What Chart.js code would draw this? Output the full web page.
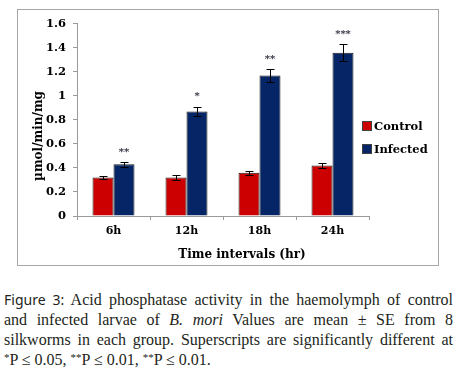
<!DOCTYPE html>
<html>
<head>
<meta charset="utf-8">
<script src="https://cdn.jsdelivr.net/npm/chart.js@4.4.0/dist/chart.umd.min.js"></script>
<style>
  html, body { margin: 0; padding: 0; background: #fff; }
  body { width: 459px; height: 383px; position: relative; overflow: hidden; }
  #box { position: absolute; left: 17px; top: 9px; width: 420px; height: 255px; border: 1px solid #a6a6a6; }
  #c { display: block; }
  #legend { position: absolute; left: 362px; top: 114px; font: bold 11.5px "DejaVu Serif", serif; color: #000; }
  .li { display: flex; align-items: center; height: 23px; }
  .sw { width: 8px; height: 8px; border: 1px solid #404040; margin-right: 2px; }
  #cap { position: absolute; left: 4px; top: 290px; width: 449px; font-family: "Liberation Serif", serif; font-size: 16px; line-height: 20px; color: #231f20; }
  .ln { text-align: justify; text-align-last: justify; white-space: nowrap; }
  .last { text-align: left; text-align-last: left; }
  .fig { font-family: "Noto Sans", sans-serif; font-size: 14px; }
  sup { font-size: 11px; line-height: 0; vertical-align: 4px; }
</style>
</head>
<body>
<div id="box"><canvas id="c" width="420" height="255"></canvas></div>
<div id="legend"></div>
<div id="cap">
  <div class="ln"><span class="fig">Figure 3:</span> Acid phosphatase activity in the haemolymph of control</div>
  <div class="ln">and infected larvae of <i>B. mori</i> Values are mean ± SE from 8</div>
  <div class="ln">silkworms in each group. Superscripts are significantly different at</div>
  <div class="ln last"><sup>*</sup>P ≤ 0.05, <sup>**</sup>P ≤ 0.01, <sup>**</sup>P ≤ 0.01.</div>
</div>
<script>
const categories = ['6h', '12h', '18h', '24h'];
const seriesNames = ['Control', 'Infected'];
const controlValues = [0.32, 0.32, 0.36, 0.42];
const controlErrors = [0.015, 0.02, 0.015, 0.02];
const infectedValues = [0.43, 0.87, 1.17, 1.36];
const infectedErrors = [0.02, 0.04, 0.055, 0.07];
const significance = ['**', '*', '**', '***'];
const yTicks = [0, 0.2, 0.4, 0.6, 0.8, 1, 1.2, 1.4, 1.6];
const yTitle = 'µmol/min/mg';
const xTitle = 'Time intervals (hr)';

const colors = ['#CC0000', '#052566'];
const errs = [controlErrors, infectedErrors];

const errorBars = {
  id: 'errorBars',
  afterDatasetsDraw(chart) {
    const ctx = chart.ctx, y = chart.scales.y;
    ctx.save();
    ctx.strokeStyle = '#000';
    ctx.lineWidth = 1;
    chart.data.datasets.forEach((ds, di) => {
      const meta = chart.getDatasetMeta(di);
      meta.data.forEach((bar, i) => {
        const v = ds.data[i], e = errs[di][i];
        const x = Math.round(bar.x) + 0.5;
        const t = Math.round(y.getPixelForValue(v + e)) + 0.5;
        const b = Math.round(y.getPixelForValue(v - e)) + 0.5;
        ctx.beginPath();
        ctx.moveTo(x, t); ctx.lineTo(x, b);
        ctx.moveTo(x - 4, t); ctx.lineTo(x + 4, t);
        ctx.moveTo(x - 4, b); ctx.lineTo(x + 4, b);
        ctx.stroke();
      });
    });
    const meta = chart.getDatasetMeta(1);
    ctx.fillStyle = '#2a2a3a';
    ctx.font = 'bold 10px "DejaVu Serif", serif';
    ctx.textAlign = 'center';
    ctx.textBaseline = 'middle';
    meta.data.forEach((bar, i) => {
      const t = y.getPixelForValue(infectedValues[i] + infectedErrors[i]);
      ctx.fillText(significance[i], bar.x, t - 10);
    });
    ctx.restore();
  }
};

const axisTitles = {
  id: 'axisTitles',
  afterDraw(chart) {
    const ctx = chart.ctx, a = chart.chartArea;
    ctx.save();
    ctx.fillStyle = '#000';
    ctx.font = 'bold 12px "DejaVu Serif", serif';
    ctx.textAlign = 'center';
    ctx.textBaseline = 'middle';
    ctx.fillText(xTitle, (a.left + a.right) / 2 + 19, a.bottom + 39);
    ctx.translate(a.left - 38, (a.top + a.bottom) / 2 + 16);
    ctx.rotate(-Math.PI / 2);
    ctx.fillText(yTitle, 0, 0);
    ctx.restore();
  }
};

const chart = new Chart(document.getElementById('c'), {
  type: 'bar',
  data: {
    labels: categories,
    datasets: [
      { label: seriesNames[0], data: controlValues, backgroundColor: colors[0], borderColor: '#1a1a1a', borderWidth: 1 },
      { label: seriesNames[1], data: infectedValues, backgroundColor: colors[1], borderColor: '#1a1a1a', borderWidth: 1 }
    ]
  },
  options: {
    responsive: false,
    animation: false,
    devicePixelRatio: 1,
    layout: { padding: { left: 0, top: 12, right: 69, bottom: 0 } },
    datasets: { bar: { categoryPercentage: 0.575, barPercentage: 1 } },
    plugins: { legend: { display: false }, tooltip: { enabled: false } },
    scales: {
      x: {
        afterFit(s) { s.height = 49; },
        grid: { display: true, drawOnChartArea: false, drawTicks: true, tickLength: 4, color: '#9a9a9a', offset: true },
        border: { display: true, color: '#9a9a9a' },
        ticks: { color: '#000', font: { family: '"DejaVu Serif", serif', weight: 'bold', size: 11 }, padding: 5 }
      },
      y: {
        min: 0, max: 1.6,
        afterFit(s) { s.width = 59; },
        afterBuildTicks(s) { s.ticks = yTicks.map(v => ({ value: v })); },
        grid: { display: true, drawOnChartArea: false, drawTicks: true, tickLength: 4, color: '#9a9a9a' },
        border: { display: true, color: '#9a9a9a' },
        ticks: { color: '#000', font: { family: '"DejaVu Serif", serif', weight: 'bold', size: 11.5 }, padding: 7,
                 callback: v => String(v) }
      }
    }
  },
  plugins: [errorBars, axisTitles]
});

const leg = document.getElementById('legend');
chart.data.datasets.forEach(ds => {
  const row = document.createElement('div'); row.className = 'li';
  const sw = document.createElement('span'); sw.className = 'sw'; sw.style.background = ds.backgroundColor;
  const tx = document.createElement('span'); tx.textContent = ds.label;
  row.appendChild(sw); row.appendChild(tx); leg.appendChild(row);
});
</script>
</body>
</html>
